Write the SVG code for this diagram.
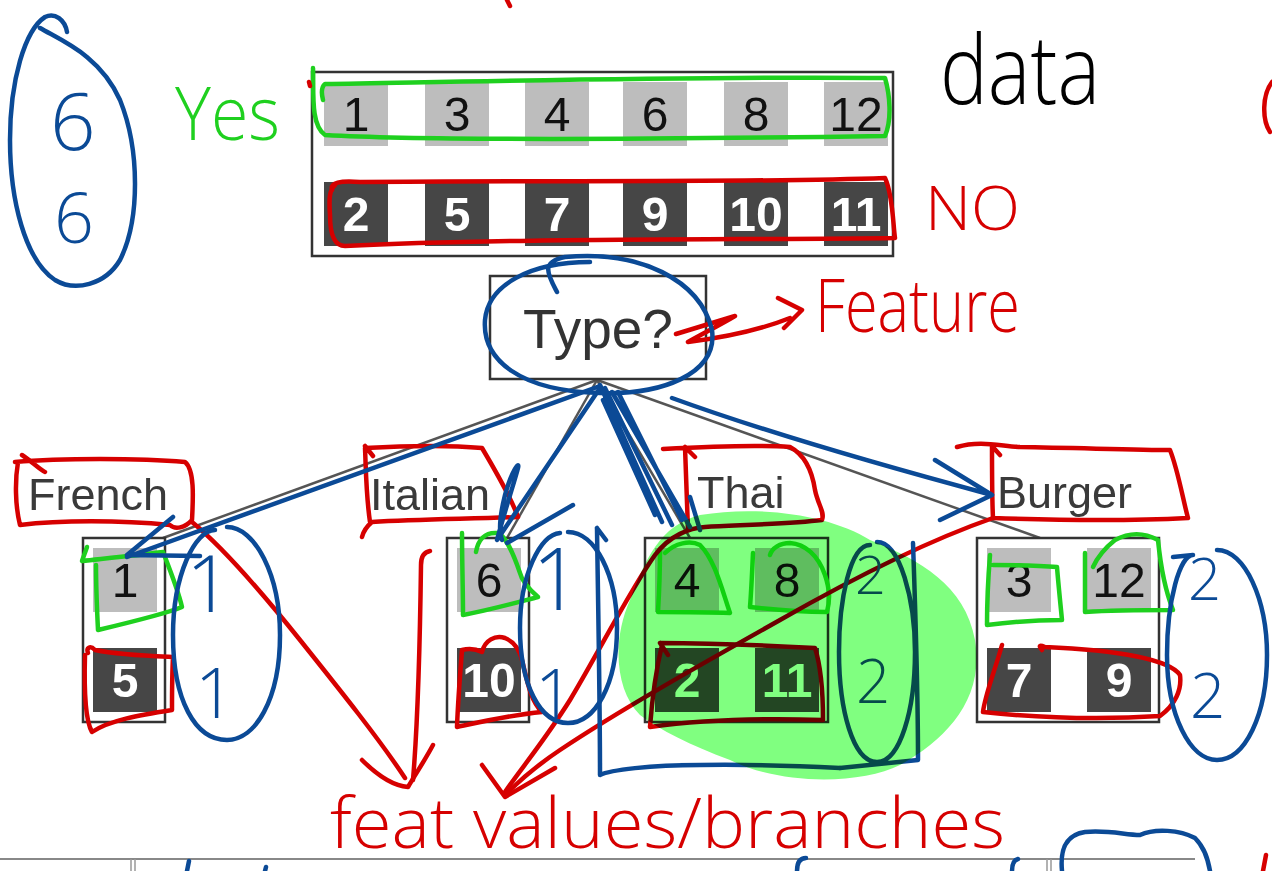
<svg xmlns="http://www.w3.org/2000/svg" width="1272" height="871" viewBox="0 0 1272 871">
<style>
.bx{fill:#fff;stroke:#333;stroke-width:2.5}
.lt{fill:#bdbdbd}
.dk{fill:#464646}
.nl{font-family:"Liberation Sans",Arial,sans-serif;font-size:48px;text-anchor:middle;fill:#111}
.nd{font-family:"Liberation Sans",Arial,sans-serif;font-size:48px;font-weight:bold;text-anchor:middle;fill:#fff}
.lbl{font-family:"Liberation Sans",Arial,sans-serif;font-size:45px;fill:#3a3a3a}
.edge{stroke:#555;stroke-width:2.5;fill:none}
.b{stroke:#0b4a96;stroke-width:4.5;fill:none;stroke-linecap:round;stroke-linejoin:round}
.r{stroke:#d60000;stroke-width:4.5;fill:none;stroke-linecap:round;stroke-linejoin:round}
.g{stroke:#1fd01f;stroke-width:4.5;fill:none;stroke-linecap:round;stroke-linejoin:round}
.hw{font-family:"Open Sans","Lato","Liberation Sans",sans-serif;font-weight:300}
.hb{fill:#0b4a96}
.hr{fill:#d60000}
.hg{fill:#1fd01f}
</style>

<!-- printed slide elements -->
<g id="data">
  <rect class="bx" x="312" y="72" width="581" height="184"/>
  <rect class="lt" x="324" y="82" width="64" height="64"/>
  <rect class="lt" x="425" y="82" width="64" height="64"/>
  <rect class="lt" x="525" y="82" width="64" height="64"/>
  <rect class="lt" x="623" y="82" width="64" height="64"/>
  <rect class="lt" x="724" y="82" width="64" height="64"/>
  <rect class="lt" x="824" y="82" width="64" height="64"/>
  <text class="nl" x="356" y="131">1</text>
  <text class="nl" x="457" y="131">3</text>
  <text class="nl" x="557" y="131">4</text>
  <text class="nl" x="655" y="131">6</text>
  <text class="nl" x="756" y="131">8</text>
  <text class="nl" x="856" y="131">12</text>
  <rect class="dk" x="324" y="182" width="64" height="64"/>
  <rect class="dk" x="425" y="182" width="64" height="64"/>
  <rect class="dk" x="525" y="182" width="64" height="64"/>
  <rect class="dk" x="623" y="182" width="64" height="64"/>
  <rect class="dk" x="724" y="182" width="64" height="64"/>
  <rect class="dk" x="824" y="182" width="64" height="64"/>
  <text class="nd" x="356" y="231">2</text>
  <text class="nd" x="457" y="231">5</text>
  <text class="nd" x="557" y="231">7</text>
  <text class="nd" x="655" y="231">9</text>
  <text class="nd" x="756" y="231">10</text>
  <text class="nd" x="856" y="231">11</text>
</g>

<g id="connectors">
  <path class="edge" d="M597,380 L163,538"/>
  <path class="edge" d="M597,380 L507,538"/>
  <path class="edge" d="M597,380 L690,538"/>
  <path class="edge" d="M597,380 L1040,538"/>
</g>

<g id="type">
  <rect class="bx" x="490" y="276" width="216" height="103"/>
  <text x="598" y="348" font-family="Liberation Sans, Arial, sans-serif" font-size="55" text-anchor="middle" fill="#333">Type?</text>
</g>

<g id="french">
  <text class="lbl" x="28" y="510">French</text>
  <rect class="bx" x="83" y="538" width="82" height="184"/>
  <rect class="lt" x="93" y="548" width="64" height="64"/>
  <rect class="dk" x="93" y="648" width="64" height="64"/>
  <text class="nl" x="125" y="597">1</text>
  <text class="nd" x="125" y="697">5</text>
</g>

<g id="italian">
  <text class="lbl" x="370" y="510">Italian</text>
  <rect class="bx" x="447" y="538" width="82" height="184"/>
  <rect class="lt" x="457" y="548" width="64" height="64"/>
  <rect class="dk" x="457" y="648" width="64" height="64"/>
  <text class="nl" x="489" y="597">6</text>
  <text class="nd" x="489" y="697">10</text>
</g>

<g id="thai">
  <text class="lbl" x="697" y="508">Thai</text>
  <rect class="bx" x="645" y="538" width="183" height="184"/>
  <rect class="lt" x="655" y="548" width="64" height="64"/>
  <rect class="lt" x="755" y="548" width="64" height="64"/>
  <rect class="dk" x="655" y="648" width="64" height="64"/>
  <rect class="dk" x="755" y="648" width="64" height="64"/>
  <text class="nl" x="687" y="597">4</text>
  <text class="nl" x="787" y="597">8</text>
  <text class="nd" x="687" y="697">2</text>
  <text class="nd" x="787" y="697">11</text>
</g>

<g id="burger">
  <text class="lbl" x="997" y="508">Burger</text>
  <rect class="bx" x="977" y="538" width="182" height="184"/>
  <rect class="lt" x="987" y="548" width="64" height="64"/>
  <rect class="lt" x="1087" y="548" width="64" height="64"/>
  <rect class="dk" x="987" y="648" width="64" height="64"/>
  <rect class="dk" x="1087" y="648" width="64" height="64"/>
  <text class="nl" x="1019" y="597">3</text>
  <text class="nl" x="1119" y="597">12</text>
  <text class="nd" x="1019" y="697">7</text>
  <text class="nd" x="1119" y="697">9</text>
</g>

<g id="footer">
  <path d="M0,859 L1195,859" stroke="#888" stroke-width="2" fill="none"/>
  <path d="M131,859 L131,871 M135,859 L135,871 M1047,859 L1047,871 M1051,859 L1051,871" stroke="#999" stroke-width="1.5" fill="none"/>
</g>

<!-- handwritten annotations -->
<g id="annot-green">
  <text class="hw hg" x="175" y="140" font-size="74" textLength="105" lengthAdjust="spacingAndGlyphs">Yes</text>
  <path class="g" d="M313,68 C314,90 310,125 325,135 C450,142 750,138 885,136 C892,120 890,95 885,78 C700,76 450,82 325,84 C320,88 322,96 323,100"/>
  <path class="g" d="M87,547 C85,553 83,558 82,561 C110,558 140,555 163,552 C170,570 178,590 182,607 C170,612 140,620 98,630 C97,610 96,585 96,565"/>
  <path class="g" d="M462,533 C462,560 463,590 463,615 C490,610 515,603 538,597 C530,590 522,582 520,573 C512,550 505,535 497,533 C485,532 478,540 476,552"/>
  <path class="g" d="M660,550 C660,575 659,595 658,612 C680,612 705,612 730,613 C722,590 715,560 700,545 C690,540 675,543 665,553"/>
  <path class="g" d="M753,553 C752,575 751,595 750,607 C775,610 805,612 827,612 C830,600 830,590 825,575 C818,555 805,544 790,543 C780,543 772,548 770,555"/>
  <path class="g" d="M990,555 C988,580 987,605 987,625 C1010,622 1040,620 1062,620 C1060,600 1058,580 1057,567 C1035,565 1010,565 993,565"/>
  <path class="g" d="M1085,553 C1085,575 1085,595 1085,612 C1115,610 1145,610 1173,610 C1165,590 1160,560 1158,540 C1145,533 1130,532 1115,540 C1105,548 1098,556 1093,567"/>
</g>

<g id="annot-red">
  <path class="r" d="M507,0 L510,6 M309,82 L310,86 M1272,82 C1262,95 1262,120 1270,132 M1266,855 L1263,871"/>
  <path class="r" d="M332,190 C330,183 340,180 360,182 C550,180 750,183 885,178 C893,195 893,225 895,238 C750,240 500,238 345,246 C335,246 330,235 330,215 C329,200 329,190 335,185"/>
  <text class="hw hr" x="925" y="230" font-size="60" textLength="95" lengthAdjust="spacingAndGlyphs">NO</text>
  <path class="r" d="M676,334 L735,316 C720,325 700,335 688,342 C720,338 760,330 790,318 M778,298 L802,310 L784,328"/>
  <text class="hw hr" x="815" y="332" font-size="74" textLength="205" lengthAdjust="spacingAndGlyphs">Feature</text>
  <!-- label boxes -->
  <path class="r" d="M15,462 C60,458 140,458 185,462 C195,470 193,500 192,520 C185,528 175,530 170,525 C120,520 60,520 20,525 C15,505 15,480 18,462 M22,455 C30,460 40,470 45,472"/>
  <path class="r" d="M192,522 C220,545 260,590 300,640 C340,690 380,740 405,778"/>
  <path class="r" d="M365,448 C400,446 450,445 482,448 C495,470 510,495 518,517 C470,519 420,519 372,522 C366,527 363,533 362,537 M365,448 C366,470 366,495 370,522 M365,446 L373,456"/>
  <path class="r" d="M430,551 C424,552 421,556 421,565 C420,640 418,720 413,780"/>
  <path class="r" d="M362,760 C380,778 395,786 408,787 C415,775 425,760 433,745"/>
  <path class="r" d="M663,449 C700,447 760,445 790,447 C805,455 812,470 815,490 C818,505 825,512 822,520 C790,524 740,525 705,527 C690,528 670,535 655,555 C630,590 600,650 570,700 C545,740 520,770 505,792 M685,447 C686,480 687,505 688,530 M685,447 L695,457"/>
  <path class="r" d="M957,447 C980,440 1000,446 1020,447 C1080,448 1140,450 1170,450 C1178,470 1183,500 1188,518 C1130,521 1050,520 993,518 M992,446 C992,470 992,500 993,518 M992,446 L1000,455"/>
  <path class="r" d="M993,518 C930,540 850,580 780,620 C700,665 620,710 560,750 C530,770 515,785 505,795"/>
  <path class="r" d="M482,765 L505,797 L555,768"/>
  <!-- count loops -->
  <path class="r" d="M88,653 C86,648 90,645 95,650 C120,655 150,656 173,657 C172,675 172,695 172,710 C140,715 110,720 92,732 C85,720 84,690 85,655"/>
  <path class="r" d="M462,650 C470,648 478,650 482,652 C485,640 495,635 505,638 C515,642 520,652 522,660 C527,680 530,700 542,712 C510,715 480,722 457,727 C458,700 460,675 462,650"/>
  <path class="r" d="M660,643 C700,643 760,645 815,648 C822,670 823,700 823,720 C760,718 700,720 650,727 C652,700 656,670 662,645 M660,643 L668,655"/>
  <path class="r" d="M1002,645 C995,670 985,695 983,712 C1040,718 1100,720 1160,716 C1175,705 1182,690 1180,675 C1170,660 1120,650 1045,647 C1040,645 1038,645 1042,650"/>
  <text class="hw hr" x="330" y="848" font-size="70" textLength="675" lengthAdjust="spacingAndGlyphs">feat values/branches</text>
</g>

<g id="annot-black">
  <text class="hw" x="940" y="104" font-size="95" fill="#000" textLength="160" lengthAdjust="spacingAndGlyphs">data</text>
</g>

<g id="annot-blue">
  <path class="b" d="M40,28 C60,40 100,55 120,100 C140,150 140,220 120,260 C105,285 75,292 55,280 C25,260 10,200 10,140 C10,80 25,30 45,17 C55,12 65,20 67,32"/>
  <text class="hw hb" x="50" y="150" font-size="80">6</text>
  <text class="hw hb" x="54" y="243" font-size="70">6</text>
  <!-- Type? circle -->
  <path class="b" d="M557,292 C548,275 540,262 565,257 C640,250 700,280 712,330 C718,375 660,395 600,393 C520,391 482,360 485,320 C488,285 530,262 590,262"/>
  <!-- arrows -->
  <path class="b" d="M600,386 L127,557 M173,517 L127,555 L200,556"/>
  <path class="b" d="M600,388 L497,540 C505,510 515,480 518,468 C520,460 512,470 505,495 C500,515 498,530 502,540 M573,505 L507,543"/>
  <path class="b" d="M600,385 L662,522 M605,388 L672,525 M612,392 L690,527 M618,392 L682,520 M603,400 L655,515 M690,497 L700,530"/>
  <path class="b" d="M672,398 C760,430 880,465 992,495 M935,460 L992,495 L940,520"/>
  <!-- count ovals -->
  <path class="b" d="M227,527 C255,527 280,575 280,635 C280,700 255,740 227,740 C195,740 173,700 173,635 C173,575 195,530 215,530"/>
  <text class="hw hb" x="186" y="612" font-size="80">1</text>
  <text class="hw hb" x="195" y="718" font-size="70">1</text>
  <path class="b" d="M568,532 C595,532 617,575 617,628 C617,685 595,723 568,723 C540,723 520,685 520,628 C520,575 540,535 560,533"/>
  <text class="hw hb" x="532" y="610" font-size="86">1</text>
  <text class="hw hb" x="535" y="718" font-size="68">1</text>
  <path class="b" d="M597,528 C598,600 600,700 600,775 C610,770 650,765 700,765 C760,764 800,766 840,768 M597,528 L606,540"/>
  <path class="b" d="M877,542 C900,542 915,600 915,652 C915,710 900,762 877,762 C853,762 839,710 839,652 C839,600 850,545 870,545 M913,543 C915,600 918,700 918,760 L840,768"/>
  <text class="hw hb" x="855" y="594" font-size="54">2</text>
  <text class="hw hb" x="856" y="703" font-size="60">2</text>
  <path class="b" d="M1217,550 C1245,550 1267,600 1267,655 C1267,715 1245,760 1217,760 C1190,760 1167,715 1167,655 C1167,600 1180,555 1193,555 M1173,557 L1193,555"/>
  <text class="hw hb" x="1188" y="600" font-size="58">2</text>
  <text class="hw hb" x="1190" y="718" font-size="62">2</text>
  <!-- cut-off marks at bottom -->
  <path class="b" d="M1062,871 C1060,850 1065,835 1085,832 C1110,830 1125,835 1140,835 C1155,828 1180,830 1195,838 C1205,848 1208,860 1210,871"/>
  <path class="b" d="M187,871 L189,861 M265,871 L266,867 M797,871 C797,862 800,858 806,858 M1012,871 C1012,864 1014,860 1018,859"/>
</g>

<g id="highlight" style="mix-blend-mode:multiply">
  <path d="M700,515 C760,505 830,515 870,540 C920,560 965,585 975,640 C985,700 945,740 900,765 C860,785 780,785 730,760 C690,745 660,730 640,715 C615,690 612,640 630,600 C645,560 660,525 700,515 Z" fill="#80ff80"/>
</g>
</svg>
